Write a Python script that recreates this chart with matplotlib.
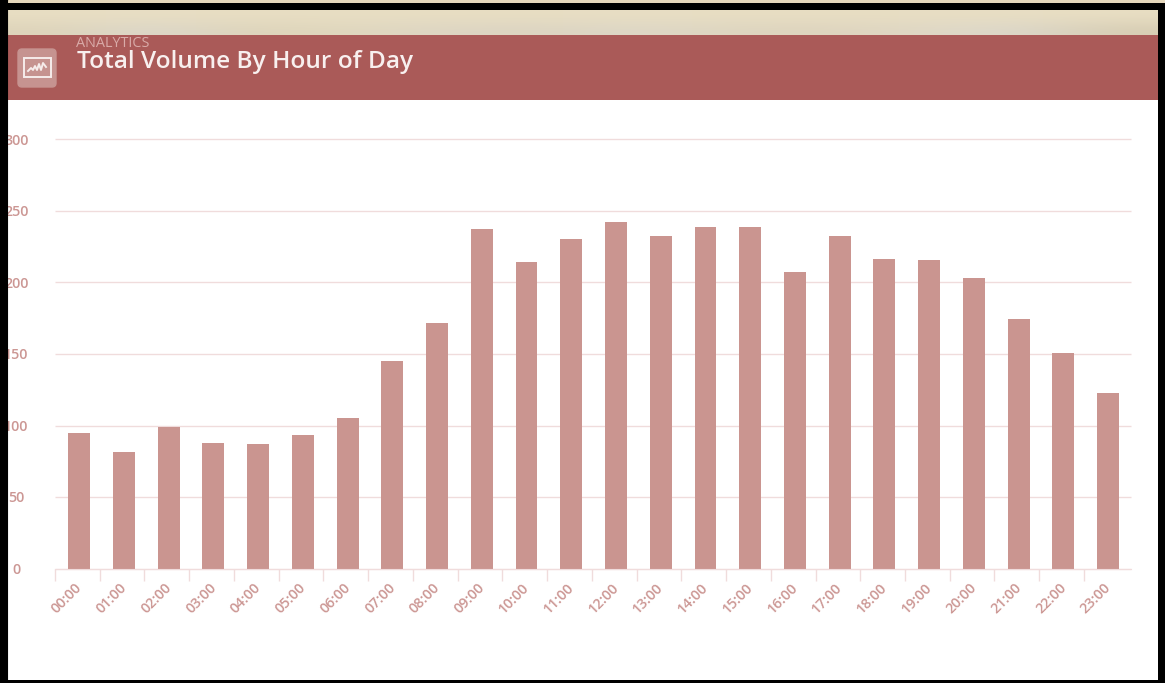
import numpy as np
import matplotlib
matplotlib.use('Agg')
import matplotlib.pyplot as plt
from matplotlib.patches import Rectangle, FancyBboxPatch
from matplotlib.transforms import ScaledTranslation

plt.rcParams['font.family'] = ['Open Sans', 'DejaVu Sans']

# Data
hours = ['00:00', '01:00', '02:00', '03:00', '04:00', '05:00', '06:00', '07:00',
         '08:00', '09:00', '10:00', '11:00', '12:00', '13:00', '14:00', '15:00',
         '16:00', '17:00', '18:00', '19:00', '20:00', '21:00', '22:00', '23:00']
volume = [95, 81.5, 99, 88, 87, 93.5, 105, 145, 172, 237.5, 214, 230.5,
          242, 232.5, 239, 239, 207, 232.5, 216.5, 216, 203, 174.5, 151, 123]
y_ticks = [0, 50, 100, 150, 200, 250, 300]

W, H = 1165, 683
bar_color = '#CA9590'
grid_color = '#F0DCDC'
text_color = '#CC9794'

fig = plt.figure(figsize=(W / 100, H / 100), dpi=100, facecolor='white')

# Page furniture, drawn in pixel coordinates
bg = fig.add_axes([0, 0, 1, 1], zorder=0)
bg.set_xlim(0, W)
bg.set_ylim(H, 0)
bg.axis('off')
bg.add_patch(Rectangle((0, 0), W, 3, color='#E6D8BC', lw=0))

# blurred beige strip above the header
top_row = np.array([[232, 222, 195]] * 12, dtype=float)
bot_row = np.array([[222, 212, 186], [220, 216, 204], [222, 212, 186], [224, 216, 190],
                    [222, 214, 196], [220, 212, 192], [222, 216, 200], [222, 214, 192],
                    [222, 212, 190], [224, 216, 196], [220, 216, 204], [216, 206, 180]],
                   dtype=float)
strip = np.stack([top_row, (top_row + bot_row) / 2, bot_row]) / 255
bg.imshow(strip, extent=(7, 1158, 35, 10), aspect='auto', interpolation='bicubic', zorder=1)
bg.set_xlim(0, W)
bg.set_ylim(H, 0)

bg.add_patch(Rectangle((7, 35), 1151, 65, color='#AA5A58', lw=0, zorder=2))
# black frame
bg.add_patch(Rectangle((0, 3), W, 7, color='black', lw=0, zorder=2))
bg.add_patch(Rectangle((1158, 3), 7, H, color='black', lw=0, zorder=2))
bg.add_patch(Rectangle((0, 680), W, 3, color='black', lw=0, zorder=2))

# header icon
bg.add_patch(FancyBboxPatch((18, 49), 38, 38, boxstyle='round,pad=0,rounding_size=4',
                            fc='#C69390', ec='#C69390', lw=1, zorder=3))
bg.add_patch(Rectangle((24, 58), 27, 19, fc='none', ec='#F6ECEB', lw=1.4, zorder=4))
bg.plot([28, 31, 33, 35, 37, 39, 41, 43, 46], [71, 68, 70, 66, 70, 64, 70, 63, 67],
        color='#F6ECEB', lw=1.4, zorder=4)

bg.text(76, 47, 'ANALYTICS', color='#D9ABA8', fontsize=10.4, va='baseline', ha='left', zorder=4)
bg.text(77, 68, 'Total Volume By Hour of Day', color='#F8F0EF', fontsize=17.6,
        va='baseline', ha='left', fontweight='semibold', zorder=4)

# Chart
left, right, top, bottom = 55, 1130.5, 139.5, 568.5
ax = fig.add_axes([left / W, 1 - bottom / H, (right - left) / W, (bottom - top) / H],
                  zorder=1)
ax.patch.set_alpha(0)
ax.bar(range(len(hours)), volume, width=0.49, color=bar_color, zorder=2)
ax.set_xlim(-0.54, len(hours) - 0.5)
ax.set_ylim(0, 300)

ax.set_yticks(y_ticks)
ax.set_xticks([i - 0.54 for i in range(len(hours))], minor=False)
ax.set_xticklabels([])
ax.set_xticks(range(len(hours)), minor=True)
ax.set_xticklabels(hours, minor=True, rotation=45, ha='right', rotation_mode='anchor',
                   color=text_color, fontsize=10.3, fontweight='semibold')
ax.tick_params(axis='x', which='major', length=8.6, width=1, color=grid_color)
ax.tick_params(axis='x', which='minor', length=0, pad=9)
ax.tick_params(axis='y', length=0, pad=28, labelcolor=text_color, labelsize=10.3)
ax.grid(axis='y', color=grid_color, lw=1, zorder=1)
for line in ax.get_ygridlines():
    line.set_clip_on(False)
    line.set_solid_capstyle('butt')
for side in ['top', 'right', 'left']:
    ax.spines[side].set_visible(False)
ax.spines['bottom'].set_color(grid_color)

# nudge hour labels left of the bar centres
nudge = ScaledTranslation(-4.5 / 100, 0, fig.dpi_scale_trans)
for lab in ax.get_xticklabels(minor=True):
    lab.set_transform(lab.get_transform() + nudge)

# labels are centred in their gutter and run under the left frame, as in the screenshot
for lab in ax.get_yticklabels():
    lab.set_ha('center')
    lab.set_fontweight('semibold')
cover = fig.add_axes([0, 0, 7 / W, 1], zorder=2)
cover.set_facecolor('black')
cover.set_xticks([])
cover.set_yticks([])

fig.savefig('out.png', dpi=100)
